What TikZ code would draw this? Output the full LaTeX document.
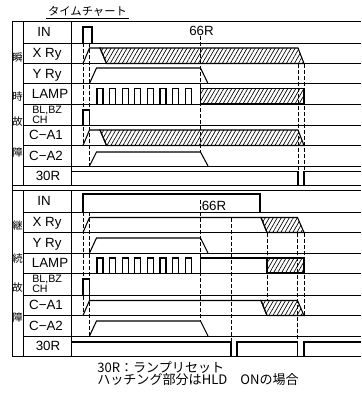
\documentclass[tikz,border=0pt]{standalone}
\usepackage{fontspec}
\setmainfont{Liberation Sans}
\newfontfamily\jpfont{Noto Sans CJK JP}
\usetikzlibrary{patterns.meta}

\begin{document}
\begin{tikzpicture}[
  x=0.75pt, y=-0.75pt,
  every node/.style={inner sep=0pt},
  grid/.style={line width=0.7pt},
  sig/.style={line width=0.8pt},
  guide/.style={dash pattern=on 3pt off 1.5pt, line width=0.6pt},
  hatch/.style={pattern={Lines[angle=60, distance=2.6pt, line width=0.5pt]},
                draw, line width=0.8pt},
  lbl/.style={font=\fontsize{10}{10}\selectfont, text height=7.2pt, text depth=0pt},
  small/.style={font=\fontsize{8}{6.3}\selectfont, align=left},
  kanji/.style={font=\jpfont\fontsize{7.8}{7.8}\selectfont},
  title/.style={font=\jpfont\fontsize{8.5}{8.5}\selectfont, inner sep=1pt},
  note/.style={font=\jpfont\fontsize{9.8}{9.4}\selectfont, align=left},
]
\useasboundingbox (0,0) rectangle (361,393);

% frame and rows
\draw[grid] (12,21) -- (361,21);
\draw[grid] (12,21) -- (12,356) -- (361,356);
\draw[grid] (12,185) -- (361,185) (12,190) -- (361,190);
\foreach \t/\b in {21/185,190/356}
  \draw[grid] (23,\t) -- (23,\b) (71,\t) -- (71,\b);
\foreach \y in {43,63.5,83.5,104,125,145.5,166,212,232.5,253,273,295,315.5,336}
  \draw[grid] (23,\y) -- (361,\y);

% title
\node[title] (ttl) at (87.5,11.5) {タイムチャート};
\draw[line width=0.6pt] (ttl.south west) -- (ttl.south east);

% side captions
\foreach \ch/\nm/\yc in {瞬/sA/58, 時/sB/97, 故/sC/122, 障/sD/153,
                         継/sE/226, 続/sF/259, 故/sG/288, 障/sH/318}
  \node[kanji] (\nm) at (17.5,\yc) {\ch};

% row labels
\foreach \txt/\nm/\xc/\yc in {IN/inA/44/32, X Ry/xryA/47/53, Y Ry/yryA/47/73.5,
    LAMP/lampA/50/94, C−A1/caoA/46/135, C−A2/catA/46/156, 30R/rstA/48/175.5,
    IN/inB/44/201, X Ry/xryB/47/222, Y Ry/yryB/47/243,
    LAMP/lampB/50/263, C−A1/caoB/46/305, C−A2/catB/46/326, 30R/rstB/48/346}
  \node[lbl] (\nm) at (\xc,\yc) {\txt};
\node[small, anchor=west] (blA) at (32,114.5) {BL,BZ\\CH};
\node[small, anchor=west] (blB) at (32,284) {BL,BZ\\CH};

% --- instantaneous fault ---
\draw[sig] (83,43) -- (83,27) -- (92,27) -- (92,43);
\draw[hatch] (100,48) -- (298,48) -- (304,63.5) -- (106.5,63.5) -- cycle;
\draw[sig] (83,63.5) -- (89.5,48) -- (100,48) -- (106.5,63.5);
\draw[sig] (89.5,83.5) -- (96.5,68) -- (200.5,68) -- (208,83.5);
\foreach \k in {0,...,7}
  \draw[sig] ({97+12.6*\k},104) -- ++(0,-15.5) -- ++(6,0) -- ++(0,15.5);
\draw[hatch] (200.5,88.5) rectangle (304,104);
\draw[sig] (83,125) -- (83,110) -- (89.5,110) -- (89.5,125);
\draw[hatch] (100,130) -- (298,130) -- (304,145.5) -- (106.5,145.5) -- cycle;
\draw[sig] (83,145.5) -- (89.5,130) -- (100,130) -- (106.5,145.5);
\draw[sig] (89.5,166) -- (96.5,152) -- (200.5,152) -- (208,166);
\draw[sig] (71,171.5) -- (298,171.5) -- (298,185) (304,185) -- (304,171.5) -- (361,171.5);

\node[lbl] (rA) at (201.5,31) {66R};
\draw[guide] (83,43) -- (83,145.5);
\draw[guide] (89.5,43) -- (89.5,166);
\draw[guide] (200.5,36) -- (200.5,152);
\draw[guide] (298,63.5) -- (298,171.5);
\draw[guide] (304,63.5) -- (304,171.5);

% --- continuous fault ---
\draw[sig] (83,212) -- (83,194) -- (260,194) -- (260,212);
\draw[hatch] (261,217.5) -- (297.5,217.5) -- (304,232.5) -- (267,232.5) -- cycle;
\draw[sig] (83,232.5) -- (89.5,217.5) -- (261,217.5) -- (267,232.5);
\draw[sig] (89.5,253) -- (96.5,238) -- (200.5,238) -- (208,253);
\foreach \k in {0,...,7}
  \draw[sig] ({97+12.6*\k},273) -- ++(0,-15) -- ++(6,0) -- ++(0,15);
\draw[hatch] (267,258) rectangle (304,273);
\draw[sig] (200.5,273) -- (200.5,258) -- (267,258);
\draw[sig] (83,295) -- (83,279) -- (89.5,279) -- (89.5,295);
\draw[hatch] (261,300.5) -- (297.5,300.5) -- (304,315.5) -- (267,315.5) -- cycle;
\draw[sig] (83,315.5) -- (89.5,300.5) -- (261,300.5) -- (267,315.5);
\draw[sig] (89.5,336) -- (96.5,321) -- (200.5,321) -- (208,336);
\draw[sig] (71,342) -- (231,342) -- (231,356) (237,356) -- (237,342) -- (297.5,342)
  -- (297.5,356) (304,356) -- (304,342) -- (361,342);

\node[lbl, anchor=west] (rB) at (201.5,206) {66R};
\draw[guide] (83,212) -- (83,315.5);
\draw[guide] (89.5,212) -- (89.5,336);
\draw[guide] (200.5,200) -- (200.5,321);
\draw[guide] (231,217.5) -- (231,342);
\draw[guide] (267,232.5) -- (267,300.5);
\draw[guide] (297.5,232.5) -- (297.5,342);
\draw[guide] (304,232.5) -- (304,315.5);

% notes
\node[note, anchor=north west] (nt) at (97,361) {30R：ランプリセット\\ハッチング部分はHLD　ONの場合};
\end{tikzpicture}
\end{document}
